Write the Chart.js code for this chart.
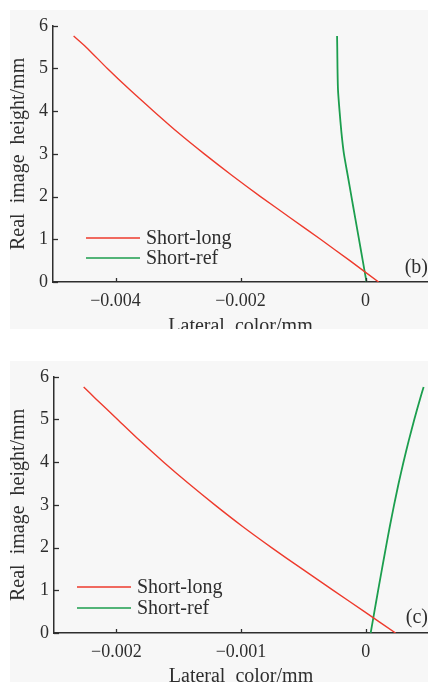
<!DOCTYPE html>
<html lang="en">
<head>
<meta charset="UTF-8">
<title>Lateral color</title>
<script src="https://cdn.jsdelivr.net/npm/chart.js"></script>
<style>
  body { margin: 0; background: #fff; width: 428px; height: 682px; position: relative; overflow: hidden; }
  .panel { position: absolute; left: 10px; background: #f7f7f7; }
  #panelB { top: 10px; width: 418px; height: 319px; }
  #panelC { top: 361px; width: 418px; height: 321px; }
  canvas { display: block; }
</style>
</head>
<body>
<div class="panel" id="panelB"><canvas id="chartB" width="418" height="319"></canvas></div>
<div class="panel" id="panelC"><canvas id="chartC" width="418" height="321"></canvas></div>

<script>
// image heights (mm) where the curves were sampled
const heights = [0, 0.5, 1, 1.5, 2, 2.5, 3, 3.5, 4, 4.5, 5, 5.5, 5.76];

// (b) lateral color, mm
const shortLongB = [0.00021, -0.00025, -0.00072, -0.0012, -0.00168, -0.00214, -0.00258, -0.003, -0.00339, -0.00377, -0.00413, -0.00447, -0.00467];
const shortRefB  = [0.000016, -0.000044, -0.000104, -0.000165, -0.000225, -0.000285, -0.000345, -0.000385, -0.000415, -0.00044, -0.000448, -0.000452, -0.000455];

// (c) lateral color, mm
const shortLongC = [0.00024, -0.00001, -0.00026, -0.00051, -0.000755, -0.00099, -0.00121, -0.00142, -0.00162, -0.00181, -0.00199, -0.00217, -0.002262];
const shortRefC  = [0.00004, 0.00007, 0.0001, 0.000131, 0.000162, 0.000194, 0.000228, 0.000264, 0.000303, 0.000345, 0.00039, 0.000438, 0.000465];

const xTicksB = [-0.004, -0.002, 0];
const xTicksC = [-0.002, -0.001, 0];
const yTicks = [0, 1, 2, 3, 4, 5, 6];

const seriesNames = ['Short-long', 'Short-ref'];

const RED = '#ee3a2c';
const GREEN = '#1c9e4e';
const INK = '#2e2e2e';
const SERIF = '"Liberation Serif", "DejaVu Serif", serif';

function toPoints(xs) {
  return xs.map((v, i) => ({ x: v, y: heights[i] }));
}

function fmtTick(v) {
  if (v === 0) return '0';
  return (v < 0 ? '\u2212' : '') + String(Math.abs(v));
}

// inward tick marks, the in-plot legend and the panel letter
const extras = {
  id: 'extras',
  afterDraw(chart, args, opts) {
    const { ctx, chartArea: a, scales: { x, y } } = chart;
    ctx.save();
    ctx.strokeStyle = INK;
    ctx.lineWidth = 1.3;
    x.ticks.forEach(t => {
      const px = Math.round(x.getPixelForValue(t.value)) + 0.5;
      ctx.beginPath(); ctx.moveTo(px, a.bottom); ctx.lineTo(px, a.bottom - 4); ctx.stroke();
    });
    y.ticks.forEach(t => {
      const py = Math.round(y.getPixelForValue(t.value)) + 0.5;
      ctx.beginPath(); ctx.moveTo(a.left, py); ctx.lineTo(a.left + 5, py); ctx.stroke();
    });

    ctx.font = '20px ' + SERIF;
    ctx.textBaseline = 'middle';
    ctx.textAlign = 'left';
    chart.data.datasets.forEach((ds, i) => {
      const ly = a.bottom - opts.legendBottom + i * opts.legendGap;
      ctx.strokeStyle = ds.borderColor;
      ctx.lineWidth = 1.6;
      ctx.beginPath();
      ctx.moveTo(a.left + opts.lineFrom, ly);
      ctx.lineTo(a.left + opts.lineTo, ly);
      ctx.stroke();
      ctx.fillStyle = INK;
      ctx.fillText(ds.label, a.left + opts.textAt, ly + 1);
    });

    ctx.textAlign = 'right';
    ctx.fillText(opts.letter, chart.width, a.bottom - opts.letterRaise);
    ctx.restore();
  }
};

function makeChart(id, longVals, refVals, xMin, xMax, xTicks, fit, legend) {
  return new Chart(document.getElementById(id), {
    type: 'line',
    data: {
      datasets: [
        { label: seriesNames[0], data: toPoints(longVals), borderColor: RED, borderWidth: 1.4,
          pointRadius: 0, tension: 0.2, fill: false },
        { label: seriesNames[1], data: toPoints(refVals), borderColor: GREEN, borderWidth: 1.8,
          pointRadius: 0, tension: 0.2, fill: false }
      ]
    },
    options: {
      responsive: false,
      animation: false,
      devicePixelRatio: 1,
      layout: { padding: { top: 6, left: 0, right: 0, bottom: 0 } },
      plugins: {
        legend: { display: false },
        tooltip: { enabled: false },
        extras: legend
      },
      scales: {
        x: {
          type: 'linear',
          min: xMin,
          max: xMax,
          afterBuildTicks: s => { s.ticks = xTicks.map(v => ({ value: v })); },
          afterFit: s => { s.height = fit.xHeight; },
          grid: { display: false, drawTicks: false },
          border: { display: true, color: INK, width: 1.5 },
          ticks: { color: INK, font: { family: SERIF, size: 18 }, padding: 8, maxRotation: 0, callback: fmtTick },
          title: { display: true, text: 'Lateral  color/mm', color: INK, padding: 0,
                   font: { family: SERIF, size: 20, lineHeight: fit.xTitleLH } }
        },
        y: {
          type: 'linear',
          min: 0,
          max: 6,
          afterBuildTicks: s => { s.ticks = yTicks.map(v => ({ value: v })); },
          afterFit: s => { s.width = fit.yWidth; },
          grid: { display: false, drawTicks: false },
          border: { display: true, color: INK, width: 1.5 },
          ticks: { color: INK, font: { family: SERIF, size: 18 }, padding: 5, callback: fmtTick },
          title: { display: true, text: 'Real  image  height/mm', color: INK, padding: 0,
                   font: { family: SERIF, size: 20, lineHeight: 0.9 } }
        }
      }
    },
    plugins: [extras]
  });
}

makeChart('chartB', shortLongB, shortRefB, -0.005, 0.001, xTicksB,
  { xHeight: 47, yWidth: 43, xTitleLH: 0.25 },
  { legendBottom: 44, legendGap: 20, lineFrom: 33, lineTo: 87, textAt: 93, letter: '(b)', letterRaise: 14 });

makeChart('chartC', shortLongC, shortRefC, -0.0025, 0.0005, xTicksC,
  { xHeight: 49, yWidth: 44, xTitleLH: 0.55 },
  { legendBottom: 46, legendGap: 21, lineFrom: 23, lineTo: 77, textAt: 83, letter: '(c)', letterRaise: 15 });
</script>
</body>
</html>
